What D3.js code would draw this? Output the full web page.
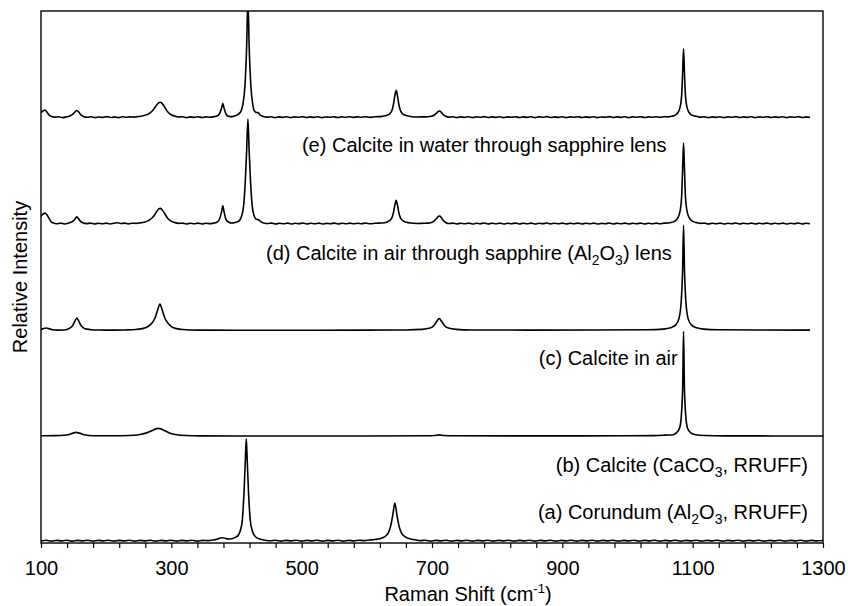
<!DOCTYPE html>
<html>
<head>
<meta charset="utf-8">
<script src="https://cdn.jsdelivr.net/npm/d3@7"></script>
<style>
  html, body { margin: 0; padding: 0; background: #fff; }
  svg text { font-family: "Liberation Sans", Arial, sans-serif; fill: #000; }
</style>
</head>
<body>
<svg id="chart" width="848" height="606"></svg>
<script>
// Raman shift axis (cm-1) and labelled ticks
const shiftDomain = [100, 1300];
const tickLabels = [100, 300, 500, 700, 900, 1100, 1300];
const minorStep = 40;

// Stacking offset of each spectrum (relative intensity units, plot spans 0-100)
const stackOffsets = [0.4, 20.1, 40, 60, 80];

// (a) Corundum (RRUFF)
const corundum = [
  [100,0],[108,0.12],[116,-0.05],[124,0.1],[132,0],[140,0.13],[148,-0.05],[156,0.1],[164,0],[172,0.12],
  [180,-0.05],[188,0.1],[196,0],[204,0.12],[212,-0.05],[220,0.1],[228,0],[236,0.12],[244,-0.05],[252,0.1],
  [260,0],[268,0.12],[276,-0.05],[284,0.1],[292,0],[300,0.12],[308,-0.05],[316,0.1],[324,0],[332,0.12],
  [340,-0.05],[348,0.1],[356,0.05],[364,0.15],[370,0.3],[375,0.55],[379,0.6],[383,0.45],[388,0.35],[394,0.45],
  [399,0.7],[403,1.1],[406,2.0],[409,4],[411.5,9],[413.5,15],[415,19.2],[416.5,15],[418.5,9],[421,4],
  [424,2.0],[427,1.1],[431,0.6],[437,0.3],[444,0.12],[452,0.02],[460,0.12],[468,-0.05],[476,0.1],[484,0],
  [492,0.12],[500,-0.05],[508,0.1],[516,0],[524,0.12],[532,-0.05],[540,0.1],[548,0],[556,0.12],[564,-0.05],
  [572,0.1],[580,0],[588,0.12],[596,0.05],[604,0.15],[612,0.25],[620,0.4],[627,0.75],[633,1.5],[637,3.0],
  [640,5.0],[643,7.1],[646,5.0],[649,3.0],[653,1.5],[659,0.75],[666,0.4],[674,0.2],[682,0.05],[690,0.12],
  [698,-0.05],[706,0.1],[714,0],[722,0.12],[730,-0.05],[738,0.1],[746,0],[754,0.12],[762,-0.05],[770,0.1],
  [778,0],[786,0.12],[794,-0.05],[802,0.1],[810,0],[818,0.12],[826,-0.05],[834,0.1],[842,0],[850,0.12],
  [858,-0.05],[866,0.1],[874,0],[882,0.12],[890,-0.05],[898,0.1],[906,0],[914,0.12],[922,-0.05],[930,0.1],
  [938,0],[946,0.12],[954,-0.05],[962,0.1],[970,0],[978,0.12],[986,-0.05],[994,0.1],[1002,0],[1010,0.12],
  [1018,-0.05],[1026,0.1],[1034,0],[1042,0.12],[1050,-0.05],[1058,0.1],[1066,0],[1074,0.12],[1082,-0.05],[1090,0.1],
  [1098,0],[1106,0.12],[1114,-0.05],[1122,0.1],[1130,0],[1138,0.12],[1146,-0.05],[1154,0.1],[1162,0],[1170,0.12],
  [1178,-0.05],[1186,0.1],[1194,0],[1202,0.12],[1210,-0.05],[1218,0.1],[1226,0],[1234,0.12],[1242,-0.05],[1250,0.1],
  [1258,0],[1266,0.12],[1274,-0.05],[1282,0.1],[1290,0],[1300,0.08]
];

// (b) Calcite (RRUFF)
const calciteRruff = [
  [100,0.05],[120,0.08],[135,0.15],[143,0.3],[149,0.55],[154,0.7],[159,0.55],[165,0.3],[173,0.12],[185,0.05],
  [210,0.05],[235,0.1],[250,0.25],[262,0.6],[270,1.0],[276,1.35],[280,1.45],[284,1.35],[290,1.0],[298,0.55],
  [308,0.25],[322,0.1],[345,0.04],[400,0.02],[500,0.02],[600,0.02],[690,0.05],[704,0.12],[711,0.22],[718,0.12],
  [732,0.05],[850,0.03],[1000,0.05],[1040,0.08],[1055,0.15],[1062,0.2],[1068,0.2],[1075,0.6],[1080,1.5],[1083,4.5],
  [1084.8,10],[1086,19.7],[1087.2,10],[1089,4.5],[1092,1.5],[1097,0.6],[1105,0.25],[1118,0.1],[1150,0.04],[1300,0.02]
];

// (c) Calcite in air
const calciteAir = [
  [100,0.1],[104,0.3],[108,0.4],[112,0.3],[117,0.1],[125,0.02],[135,0.05],[141,0.2],[145,0.45],[149,0.95],
  [152,1.7],[155,2.3],[158,1.7],[161,0.95],[165,0.45],[170,0.2],[178,0.08],[190,0.03],[210,0.02],[230,0.05],
  [245,0.12],[255,0.3],[263,0.6],[270,1.3],[275,2.3],[279,3.8],[282.5,4.9],[286,3.8],[290,2.3],[295,1.3],
  [301,0.6],[308,0.3],[318,0.12],[330,0.05],[350,0.02],[400,0],[500,0],[600,0.02],[660,0.05],[685,0.15],
  [697,0.4],[703,0.9],[707,1.6],[711,2.2],[715,1.6],[719,0.9],[725,0.4],[737,0.15],[760,0.05],[850,0.02],
  [950,0.03],[1030,0.08],[1055,0.2],[1066,0.45],[1074,1.0],[1079,2.2],[1082.5,5.5],[1084.5,11],[1086,19.7],[1087.5,11],
  [1089.5,5.5],[1093,2.2],[1098,1.0],[1106,0.45],[1117,0.2],[1140,0.08],[1200,0.03],[1280,0.02]
];

// (d) Calcite in air through sapphire lens
const calciteAirSapphire = [
  [100,1.4],[103,1.8],[106,2.0],[109,1.7],[112,1.1],[115,0.5],[119,0.15],[124,0.02],[130,0.12],[136,-0.03],
  [142,0.12],[147,0.35],[151,0.7],[153,1.05],[155,1.3],[157,1.05],[160,0.55],[164,0.2],[170,0.03],[176,0.12],
  [182,-0.04],[188,0.1],[194,0],[200,0.13],[206,-0.03],[212,0.1],[218,0.2],[222,0.05],[228,0.12],[234,-0.02],
  [240,0.1],[246,0.08],[252,0.18],[258,0.3],[264,0.55],[269,0.95],[274,1.6],[278,2.4],[281,2.85],[283,2.9],
  [286,2.6],[290,1.9],[294,1.1],[299,0.55],[305,0.25],[311,0.08],[317,0.13],[323,-0.03],[329,0.1],[335,0],
  [341,0.12],[347,-0.04],[353,0.1],[359,0.03],[365,0.13],[370,0.3],[374,0.9],[377,2.2],[379,3.4],[381,2.2],
  [384,0.8],[388,0.3],[393,0.15],[398,0.25],[402,0.4],[405,0.7],[408,1.5],[411,3.5],[413.5,8],[415.5,13.5],
  [417.5,19.7],[419.5,13.5],[421.5,8],[424,3.5],[427,1.5],[430,0.9],[432,0.8],[434,0.75],[437,0.4],[442,0.15],
  [448,0.05],[454,0.13],[460,-0.04],[466,0.1],[472,0],[478,0.12],[484,-0.05],[490,0.1],[496,0.03],[502,0.14],
  [508,-0.03],[514,0.1],[520,0],[526,0.12],[532,-0.04],[538,0.08],[544,0.02],[550,0.13],[556,-0.03],[562,0.1],
  [568,0.02],[574,0.12],[580,0],[586,0.1],[592,0.02],[598,0.14],[605,0.0],[613,0.1],[623,0.15],[631,0.35],
  [636,0.7],[639,1.3],[641,2.2],[643,3.5],[645,4.4],[647,3.5],[649,2.2],[651,1.3],[654,0.7],[659,0.35],
  [667,0.15],[677,0.07],[687,0.1],[693,0.12],[699,0.25],[703,0.5],[707,1.0],[710,1.4],
  [712,1.45],[714,1.2],[717,0.65],[721,0.25],[726,0.05],[732,0.12],[738,-0.04],[744,0.1],[750,0],[756,0.12],
  [762,-0.05],[768,0.1],[774,0.02],[780,0.14],[786,-0.03],[792,0.1],[798,0],[804,0.12],[810,-0.04],[816,0.09],
  [822,0.02],[828,0.13],[834,-0.03],[840,0.1],[846,0],[852,0.12],[858,-0.05],[864,0.1],[870,0.03],[876,0.14],
  [882,-0.02],[888,0.1],[894,0],[900,0.12],[906,-0.04],[912,0.1],[918,0.02],[924,0.13],[930,-0.03],[936,0.1],
  [942,0],[948,0.12],[954,-0.05],[960,0.08],[966,0.02],[972,0.14],[978,-0.03],[984,0.1],[990,0],[996,0.12],
  [1002,-0.04],[1008,0.1],[1014,0.02],[1020,0.13],[1026,-0.03],[1032,0.1],[1038,0.02],[1044,0.12],[1050,0],[1056,0.12],
  [1062,0.15],[1067,0.25],[1072,0.45],[1076,0.9],[1080,2.0],[1083,5],[1084.5,10],[1086,15.2],[1087.5,10],[1089,5],
  [1092,2.0],[1096,0.9],[1100,0.45],[1106,0.22],[1112,0.08],[1118,0.13],[1124,-0.04],[1130,0.1],[1136,0],[1142,0.12],
  [1148,-0.05],[1154,0.1],[1160,0.02],[1166,0.14],[1172,-0.03],[1178,0.1],[1184,0],[1190,0.12],[1196,-0.04],[1202,0.1],
  [1208,0.02],[1214,0.13],[1220,-0.03],[1226,0.1],[1232,0],[1238,0.12],[1244,-0.05],[1250,0.1],[1256,0.02],[1262,0.14],
  [1268,-0.03],[1274,0.1],[1280,0.02]
];

// (e) Calcite in water through sapphire lens
const calciteWaterSapphire = [
  [100,0.9],[103,1.2],[106,1.4],[109,1.0],[112,0.5],[116,0.15],[121,0.05],[127,0.12],[133,-0.04],[139,0.1],
  [145,0.3],[149,0.6],[152,1.0],[155,1.3],[158,1.0],[161,0.5],[165,0.18],[171,0.02],[177,0.12],[183,-0.05],
  [189,0.08],[195,0],[201,0.14],[207,-0.02],[213,0.1],[219,-0.05],[225,0.12],[231,0.02],[237,0.1],[243,0.05],
  [249,0.15],[255,0.25],[261,0.45],[267,0.8],[272,1.4],[276,2.1],[280,2.7],[283,2.85],[286,2.6],[290,1.9],
  [294,1.1],[299,0.55],[305,0.25],[311,0.08],[317,0.12],[323,-0.04],[329,0.1],[335,0],[341,0.13],[347,-0.03],
  [353,0.1],[359,0.02],[365,0.12],[370,0.25],[374,0.7],[377,1.7],[379,2.6],[381,1.7],[384,0.6],[388,0.2],
  [393,0.15],[398,0.3],[403,0.6],[407,1.2],[410,2.6],[413,6],[415.5,13],[417.5,22],[419.5,13],[422,6],
  [425,2.4],[428,1.1],[431,0.9],[433,0.9],[436,0.45],[441,0.18],[447,0.05],[453,0.13],[459,-0.04],[465,0.1],
  [471,0],[477,0.12],[483,-0.05],[489,0.1],[495,0.03],[501,0.14],[507,-0.03],[513,0.1],[519,0],[525,0.12],
  [531,-0.04],[537,0.08],[543,0.02],[549,0.13],[555,-0.03],[561,0.1],[567,0.02],[573,0.12],[579,0],[585,0.1],
  [591,0.02],[597,0.13],[605,0.0],[613,0.12],[623,0.2],[631,0.4],[636,0.8],[639,1.5],[641,2.55],[643,4.1],
  [645,5.1],[647,4.1],[649,2.55],[651,1.5],[654,0.8],[659,0.4],[667,0.18],[677,0.08],
  [687,0.1],[693,0.12],[699,0.2],[703,0.4],[707,0.8],[710,1.15],[712,1.2],[714,1.0],[717,0.55],[721,0.22],
  [726,0.05],[732,0.12],[738,-0.04],[744,0.1],[750,0],[756,0.12],[762,-0.05],[768,0.1],[774,0.02],[780,0.14],
  [786,-0.03],[792,0.1],[798,0],[804,0.12],[810,-0.04],[816,0.09],[822,0.02],[828,0.13],[834,-0.03],[840,0.1],
  [846,0],[852,0.12],[858,-0.05],[864,0.1],[870,0.03],[876,0.14],[882,-0.02],[888,0.1],[894,0],[900,0.12],
  [906,-0.04],[912,0.1],[918,0.02],[924,0.13],[930,-0.03],[936,0.1],[942,0],[948,0.12],[954,-0.05],[960,0.08],
  [966,0.02],[972,0.14],[978,-0.03],[984,0.1],[990,0],[996,0.12],[1002,-0.04],[1008,0.1],[1014,0.02],[1020,0.13],
  [1026,-0.03],[1032,0.1],[1038,0.02],[1044,0.12],[1050,0],[1056,0.12],[1062,0.1],[1067,0.2],[1072,0.35],[1076,0.7],
  [1080,1.6],[1083,4.0],[1084.5,8],[1086,12.9],[1087.5,8],[1089,4.0],[1092,1.6],[1096,0.7],[1100,0.35],[1106,0.2],
  [1112,0.05],[1118,0.12],[1124,-0.04],[1130,0.1],[1136,0],[1142,0.12],[1148,-0.05],[1154,0.1],[1160,0.02],[1166,0.14],
  [1172,-0.03],[1178,0.1],[1184,0],[1190,0.12],[1196,-0.04],[1202,0.1],[1208,0.02],[1214,0.13],[1220,-0.03],[1226,0.1],
  [1232,0],[1238,0.12],[1244,-0.05],[1250,0.1],[1256,0.02],[1262,0.14],[1268,-0.03],[1274,0.1],[1280,0]
];

const spectra = [corundum, calciteRruff, calciteAir, calciteAirSapphire, calciteWaterSapphire];

// Series labels; "sub" segments are chemical-formula subscripts
const seriesLabels = [
  [["(a) Corundum (Al"], ["2", "sub"], ["O"], ["3", "sub"], [", RRUFF)"]],
  [["(b) Calcite (CaCO"], ["3", "sub"], [", RRUFF)"]],
  [["(c) Calcite in air"]],
  [["(d) Calcite in air through sapphire (Al"], ["2", "sub"], ["O"], ["3", "sub"], [") lens"]],
  [["(e) Calcite in water through sapphire lens"]]
];

// Where each label's right end sits, in axis units
const labelAnchors = [[1277, 4.5], [1277, 13.3], [1077, 33.5], [1068, 53.2], [1060, 73.5]];

const plot = { left: 41, right: 823, top: 11, bottom: 543 };

const svg = d3.select("#chart");
const x = d3.scaleLinear().domain(shiftDomain).range([plot.left, plot.right]);
const y = d3.scaleLinear().domain([0, 100]).range([plot.bottom, plot.top]);

svg.append("defs").append("clipPath").attr("id", "plotClip")
  .append("rect")
  .attr("x", plot.left).attr("y", plot.top)
  .attr("width", plot.right - plot.left).attr("height", plot.bottom - plot.top);

// Spectra
const line = d3.line().curve(d3.curveMonotoneX);
const traces = svg.append("g").attr("clip-path", "url(#plotClip)");
spectra.forEach((s, i) => {
  const off = stackOffsets[i];
  traces.append("path")
    .attr("d", line(s.map(d => [x(d[0]), y(d[1] + off)])))
    .attr("fill", "none")
    .attr("stroke", "#000")
    .attr("stroke-width", 1.6)
    .attr("stroke-linejoin", "round");
});

// Frame
svg.append("rect")
  .attr("x", plot.left).attr("y", plot.top)
  .attr("width", plot.right - plot.left).attr("height", plot.bottom - plot.top)
  .attr("fill", "none").attr("stroke", "#000").attr("stroke-width", 1.4);

// Bottom axis: minor ticks every 40, labels every 200
const xAxis = d3.axisBottom(x)
  .tickValues(d3.range(shiftDomain[0], shiftDomain[1] + 1, minorStep))
  .tickSize(5)
  .tickSizeOuter(0)
  .tickPadding(13)
  .tickFormat(v => tickLabels.includes(v) ? String(v) : "");
const gx = svg.append("g").attr("transform", `translate(0,${plot.bottom})`).call(xAxis);
gx.select(".domain").remove();
gx.selectAll(".tick line").attr("stroke", "#000").attr("stroke-width", 1.2);
gx.selectAll(".tick text")
  .attr("font-family", "Liberation Sans, Arial, sans-serif")
  .attr("font-size", 20).attr("fill", "#000");

// Axis titles
const xt = svg.append("text")
  .attr("x", 468).attr("y", 601)
  .attr("text-anchor", "middle").attr("font-size", 20);
xt.append("tspan").text("Raman Shift (cm");
xt.append("tspan").attr("font-size", 13).attr("dy", -8).text("-1");
xt.append("tspan").attr("dy", 8).text(")");

svg.append("text")
  .attr("transform", `translate(27,${(plot.top + plot.bottom) / 2}) rotate(-90)`)
  .attr("text-anchor", "middle").attr("font-size", 20)
  .text("Relative Intensity");

// Series labels
seriesLabels.forEach((parts, i) => {
  const [lx, ly] = labelAnchors[i];
  const t = svg.append("text")
    .attr("x", x(lx)).attr("y", y(ly))
    .attr("text-anchor", "end").attr("font-size", 20);
  let shifted = false;
  parts.forEach(([str, kind]) => {
    const ts = t.append("tspan").text(str);
    if (kind === "sub") {
      ts.attr("font-size", 14).attr("dy", shifted ? 0 : 5);
      shifted = true;
    } else {
      ts.attr("dy", shifted ? -5 : 0);
      shifted = false;
    }
  });
});
</script>
</body>
</html>
